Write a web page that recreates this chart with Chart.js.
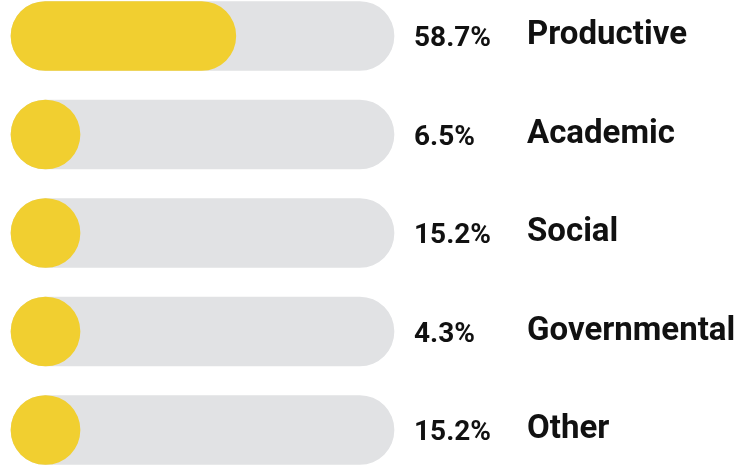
<!DOCTYPE html>
<html>
<head>
<meta charset="utf-8">
<script src="https://cdn.jsdelivr.net/npm/chart.js@4"></script>
<style>
  html, body { margin: 0; padding: 0; background: #fff; }
  #wrap { width: 749px; height: 467px; }
</style>
</head>
<body>
<div id="wrap"><canvas id="share-chart"></canvas></div>
<script>
const categories = ['Productive', 'Academic', 'Social', 'Governmental', 'Other'];
const shares = [58.7, 6.5, 15.2, 4.3, 15.2];
const trackValues = [100, 100, 100, 100, 100];
const shareLabels = ['58.7%', '6.5%', '15.2%', '4.3%', '15.2%'];

const share_ctx = document.getElementById('share-chart').getContext('2d');

// small values still show as a full circle (bar never shorter than it is tall)
const minPill = {
  id: 'minPill',
  beforeDatasetDraw(chart, args) {
    if (args.index !== 0) return;
    args.meta.data.forEach(el => {
      el.x = Math.max(el.x, el.base + el.height);
    });
  }
};

const sideLabels = {
  id: 'sideLabels',
  afterDraw(chart) {
    const c = chart.ctx;
    const area = chart.chartArea;
    const meta = chart.getDatasetMeta(0);
    c.save();
    c.fillStyle = '#111111';
    c.textAlign = 'left';
    c.textBaseline = 'middle';
    categories.forEach((name, i) => {
      const y = meta.data[i].y;
      c.font = 'bold 28px Roboto';
      c.fillText(shareLabels[i], area.right + 20, y + 3);
      c.font = 'bold 33px Roboto';
      c.fillText(name, area.right + 133, y);
    });
    c.restore();
  }
};

const shareChart = new Chart(share_ctx, {
  type: 'bar',
  plugins: [minPill, sideLabels],
  data: {
    labels: categories,
    datasets: [
      {
        data: shares,
        backgroundColor: '#f1cf30',
        grouped: false,
        clip: false
      },
      {
        data: trackValues,
        backgroundColor: '#e1e2e4',
        grouped: false,
        clip: false
      }
    ]
  },
  options: {
    indexAxis: 'y',
    responsive: true,
    maintainAspectRatio: false,
    animation: false,
    layout: {
      padding: { left: 11, right: 355, top: 36, bottom: 37 }
    },
    elements: {
      bar: {
        borderRadius: 100,
        borderSkipped: false
      }
    },
    datasets: {
      bar: { barThickness: 69 }
    },
    scales: {
      x: { min: 0, max: 100, display: false },
      y: { display: false, offset: false }
    },
    plugins: {
      legend: { display: false },
      tooltip: { enabled: false }
    }
  }
});
</script>
</body>
</html>
